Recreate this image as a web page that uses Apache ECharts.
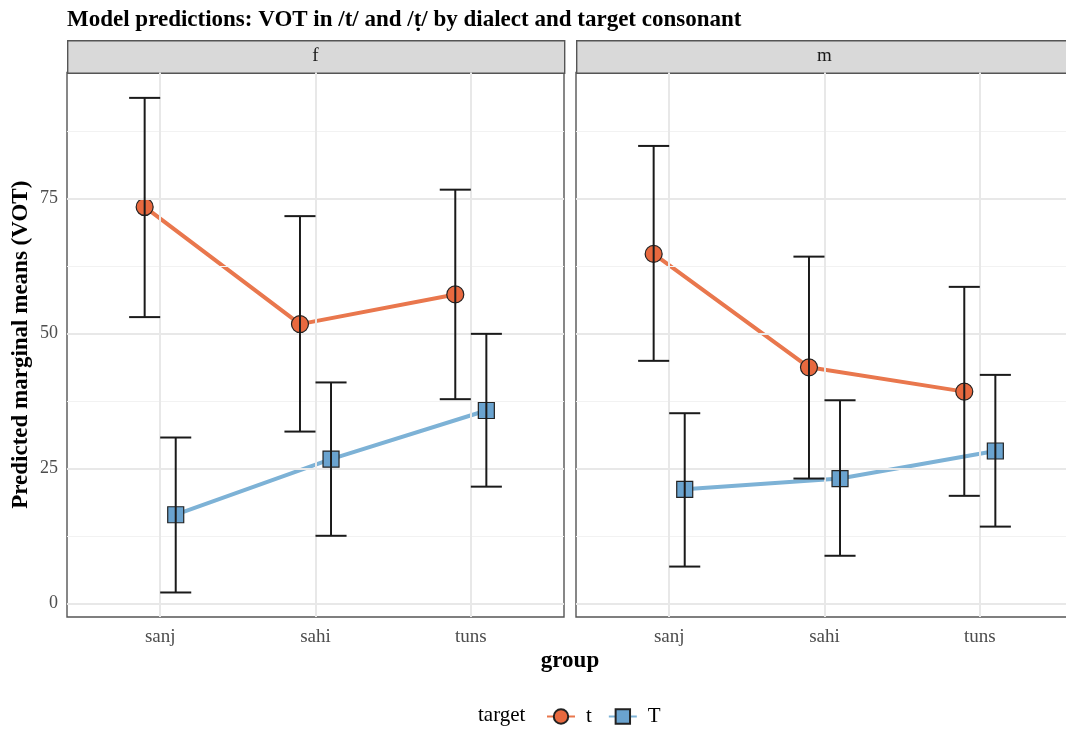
<!DOCTYPE html>
<html>
<head>
<meta charset="utf-8">
<script src="https://cdn.jsdelivr.net/npm/echarts@6/dist/echarts.min.js"></script>
<style>
  html, body { margin: 0; padding: 0; background: #fff; }
  #chart { width: 1066px; height: 733px; }
</style>
</head>
<body>
<div id="chart"></div>
<script>
// Dialect groups on the x axis, one facet per speaker sex
const groups = ['sanj', 'sahi', 'tuns'];
const panels = ['f', 'm'];
const targets = ['t', 'T'];
const yTicks = [0, 25, 50, 75];
const yMinor = [12.5, 37.5, 62.5, 87.5];

// Predicted marginal means with lower / upper confidence limits
const fT_est = [73.4, 51.7, 57.2];
const fT_lo  = [53.0, 31.8, 37.8];
const fT_hi  = [93.6, 71.7, 76.6];

const fR_est = [16.4, 26.7, 35.7];
const fR_lo  = [2.0, 12.5, 21.6];
const fR_hi  = [30.7, 40.9, 49.9];

const mT_est = [64.7, 43.7, 39.2];
const mT_lo  = [44.9, 23.1, 19.9];
const mT_hi  = [84.7, 64.2, 58.6];

const mR_est = [21.1, 23.1, 28.2];
const mR_lo  = [6.8, 8.8, 14.2];
const mR_hi  = [35.2, 37.6, 42.3];

const panelData = [
  { t: [fT_est, fT_lo, fT_hi], T: [fR_est, fR_lo, fR_hi] },
  { t: [mT_est, mT_lo, mT_hi], T: [mR_est, mR_lo, mR_hi] }
];

const FONT = 'Liberation Serif';
const dodge = { t: -0.1, T: 0.1 };
const colors = {
  t: { fill: '#E8693F', line: '#E9774D' },
  T: { fill: '#6AA3CF', line: '#7DB2D6' }
};

const PANEL_W = 497, TOP = 72.5, BOTTOM = 617;
const panelLeft = [67, 576];

const chart = echarts.init(document.getElementById('chart'), null, { renderer: 'canvas' });

const grids = [], xAxes = [], yAxes = [], series = [], graphics = [];

panels.forEach((p, k) => {
  grids.push({
    left: panelLeft[k], top: TOP, width: PANEL_W, height: BOTTOM - TOP,
    show: true, borderColor: '#555', borderWidth: 1.4, backgroundColor: '#fff',
    containLabel: false, outerBoundsMode: 'none'
  });
  xAxes.push({
    type: 'value', gridIndex: k, min: -0.6, max: 2.6,
    axisLine: { show: false },
    splitLine: { show: false },
    axisTick: { show: true, customValues: [0, 1, 2], length: 5, lineStyle: { color: '#333', width: 1.5 } },
    axisLabel: {
      customValues: [0, 1, 2], formatter: v => groups[Math.round(v)],
      color: '#4d4d4d', fontFamily: FONT, fontSize: 19, margin: 11
    }
  });
  yAxes.push({
    type: 'value', gridIndex: k, min: -2.54, max: 98.3,
    axisLine: { show: false },
    splitLine: { show: false },
    axisTick: { show: k === 0, customValues: yTicks, length: 5, lineStyle: { color: '#333', width: 1.5 } },
    axisLabel: {
      show: k === 0, customValues: yTicks, color: '#4d4d4d',
      fontFamily: FONT, fontSize: 18, margin: 9
    },
    name: k === 0 ? 'Predicted marginal means (VOT)' : '',
    nameLocation: 'middle', nameRotate: 90, nameGap: 34,
    nameTextStyle: { fontFamily: FONT, fontSize: 23, fontWeight: 'bold', color: '#000' }
  });

  // panel grid lines
  series.push({
    type: 'line', xAxisIndex: k, yAxisIndex: k, data: [], z: 1, silent: true,
    markLine: {
      silent: true, symbol: 'none', label: { show: false }, animation: false,
      data: [
        ...yMinor.map(v => ({ yAxis: v, lineStyle: { color: '#f2f2f2', width: 1.2, type: 'solid' } })),
        ...yTicks.map(v => ({ yAxis: v, lineStyle: { color: '#e8e8e8', width: 2, type: 'solid' } })),
        ...groups.map((g, i) => ({ xAxis: i, lineStyle: { color: '#e8e8e8', width: 2, type: 'solid' } }))
      ]
    }
  });

  targets.forEach(tg => {
    const [est, lo, hi] = panelData[k][tg];
    series.push({
      name: tg, type: 'line', xAxisIndex: k, yAxisIndex: k, z: 3,
      data: est.map((v, i) => [i + dodge[tg], v]),
      symbol: tg === 't' ? 'circle' : 'rect',
      symbolSize: tg === 't' ? 17 : 16,
      lineStyle: { color: colors[tg].line, width: 4 },
      itemStyle: { color: colors[tg].fill, borderColor: '#222', borderWidth: 1.2 },
      emphasis: { disabled: true },
      animation: false
    });
    series.push({
      type: 'custom', xAxisIndex: k, yAxisIndex: k, z: 5, silent: true,
      data: est.map((v, i) => [i + dodge[tg], lo[i], hi[i]]),
      renderItem: (params, api) => {
        const x = api.value(0);
        const a = api.coord([x, api.value(1)]);
        const b = api.coord([x, api.value(2)]);
        const hw = api.size([0.1, 0])[0];
        const st = { stroke: '#1a1a1a', lineWidth: 2 };
        return {
          type: 'group', children: [
            { type: 'line', shape: { x1: a[0], y1: a[1], x2: b[0], y2: b[1] }, style: st },
            { type: 'line', shape: { x1: a[0] - hw, y1: a[1], x2: a[0] + hw, y2: a[1] }, style: st },
            { type: 'line', shape: { x1: b[0] - hw, y1: b[1], x2: b[0] + hw, y2: b[1] }, style: st }
          ]
        };
      },
      animation: false
    });
  });

  // facet strip
  graphics.push({
    type: 'rect', left: panelLeft[k], top: 40,
    shape: { width: PANEL_W, height: TOP - 40 },
    style: { fill: '#d9d9d9', stroke: '#555', lineWidth: 1.4 }
  });
  graphics.push({
    type: 'text', x: panelLeft[k] + PANEL_W / 2, y: 56.5,
    style: { text: p, fill: '#1a1a1a', font: '19px "' + FONT + '"', align: 'center', verticalAlign: 'middle' }
  });
});

graphics.push({
  type: 'text', x: (panelLeft[0] + panelLeft[1] + PANEL_W) / 2, y: 661,
  style: { text: 'group', fill: '#000', font: 'bold 23px "' + FONT + '"', align: 'center', verticalAlign: 'middle' }
});
graphics.push({
  type: 'text', x: 478, y: 715,
  style: { text: 'target', fill: '#000', font: '21px "' + FONT + '"', align: 'left', verticalAlign: 'middle' }
});

chart.setOption({
  backgroundColor: '#fff',
  animation: false,
  title: {
    text: 'Model predictions: VOT in /t/ and /ṭ/ by dialect and target consonant',
    left: 62, top: 4,
    textStyle: { fontFamily: FONT, fontSize: 23, fontWeight: 'bold', color: '#000' }
  },
  legend: {
    data: targets, left: 546, top: 706, padding: 0,
    itemWidth: 28, itemHeight: 18, itemGap: 16,
    textStyle: { fontFamily: FONT, fontSize: 21, color: '#000', padding: [0, 0, 0, 6] },
    selectedMode: false
  },
  grid: grids, xAxis: xAxes, yAxis: yAxes, series: series, graphic: graphics
});
</script>
</body>
</html>
